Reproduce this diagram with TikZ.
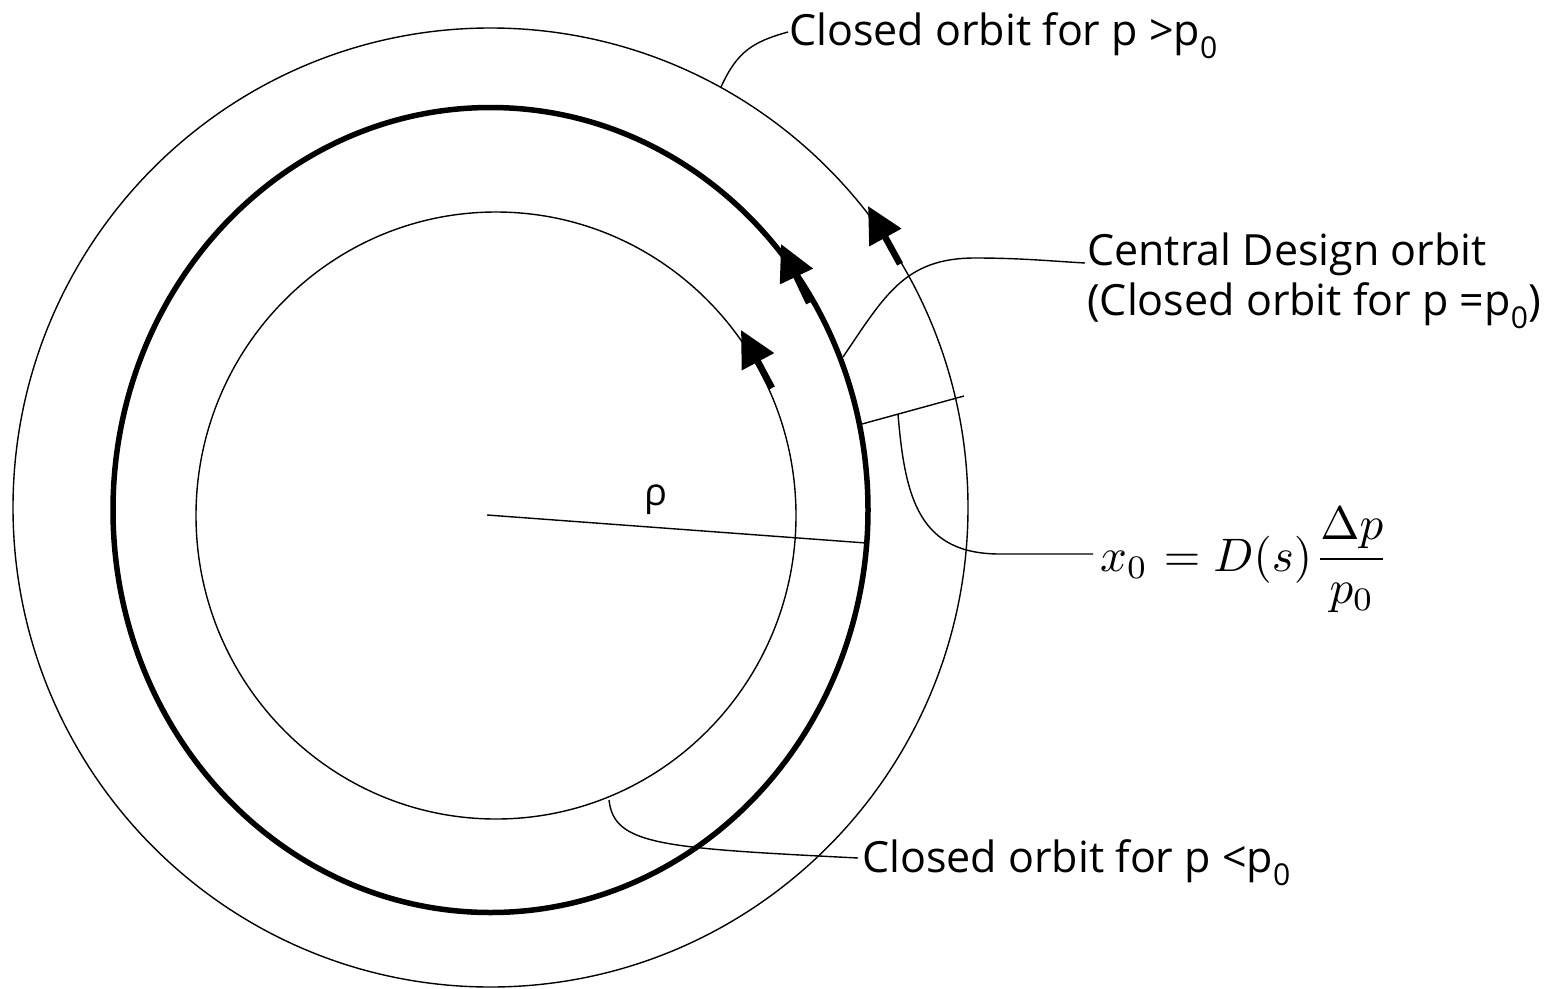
\documentclass[tikz,border=0pt]{standalone}
\usepackage{graphicx}
\usepackage{fontspec}
\setmainfont{Open Sans}
\usetikzlibrary{arrows.meta}
\tikzset{
  orbit/.style={line width=1.4pt},
  design/.style={line width=5.5pt},
  leader/.style={line width=1.4pt},
  flowarrow/.style={line width=6.5pt,-{Triangle[length=36pt,width=35pt]}},
  lbl/.style={inner sep=0pt,font=\fontsize{43}{50}\selectfont},
}
\begin{document}
\begin{tikzpicture}[x=1pt,y=-1pt]
\useasboundingbox (0,0) rectangle (1555,988);
% orbits
\draw[orbit]  (490.5,507.5) ellipse [x radius=477.5,y radius=479.5];
\draw[design] (490.5,510) ellipse [x radius=377.5,y radius=402.5];
\draw[orbit]  (496,515.5) ellipse [x radius=300,y radius=303.5];
% direction arrows
\draw[flowarrow] (772,388) -- (741,330);
\draw[flowarrow] (809,303) -- (781,244);
\draw[flowarrow] (900,264) -- (868,206);
% radius
\coordinate (c0) at (487,515);
\coordinate (rho1) at (866,543);
\draw[leader] (c0) -- (rho1);
\node[inner sep=0pt,font=\fontsize{38}{40}\selectfont] (rho) at (656,500) {ρ};
% dispersion tick
\coordinate (dA) at (862,424);
\coordinate (dB) at (964,396);
\draw[leader] (dA) -- (dB);
\coordinate (dM) at (898,414);
% labels
\node[lbl,anchor=base west] (outer) at (789,45) {Closed orbit for p >p\textsubscript{0}};
\node[lbl,anchor=base west] (central1) at (1087,265) {Central Design orbit};
\node[lbl,anchor=base west] (central2) at (1087,315) {(Closed orbit for p =p\textsubscript{0})};
\node[lbl,anchor=base west] (inner) at (862,872) {Closed orbit for p <p\textsubscript{0}};
\node[inner sep=0pt,anchor=base west] (formula) at (1100,571)
  {\scalebox{4.7}{$\displaystyle x_0 \mkern1mu= D(s)\mkern1mu\frac{\Delta p}{p_0}$}};
% leaders
\coordinate (o1) at (721,87);
\draw[leader] (o1) .. controls (737,52) and (752,42) .. (788,32);
\coordinate (m1) at (843,357);
\coordinate (m2) at (1085,263);
\draw[leader] (m1) .. controls (885,295) and (905,258) .. (975,258)
  .. controls (1020,258) and (1050,261) .. (m2);
\coordinate (f1) at (1093,554);
\draw[leader] (dM) .. controls (905,500) and (920,554) .. (1000,554) -- (f1);
\coordinate (i1) at (609,800);
\coordinate (i2) at (858,858);
\draw[leader] (i1) .. controls (614,845) and (660,848) .. (i2);
\end{tikzpicture}
\end{document}
